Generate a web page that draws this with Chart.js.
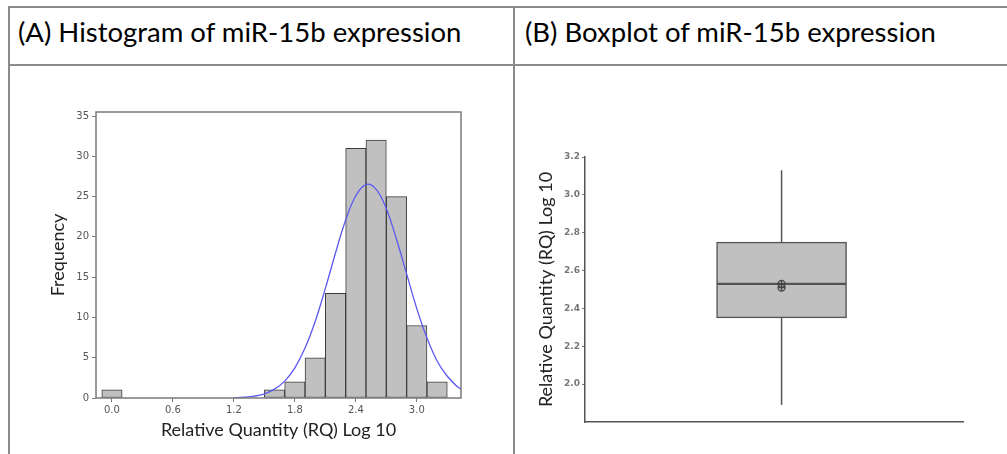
<!DOCTYPE html>
<html>
<head>
<meta charset="utf-8">
<script src="https://cdn.jsdelivr.net/npm/chart.js@4.4.1/dist/chart.umd.min.js"></script>
<style>
  body { margin: 0; background: #fff; width: 1007px; height: 454px; overflow: hidden; position: relative; }
  .line { position: absolute; background: #8c8c8c; }
  .hdr { position: absolute; font-family: "Lato", sans-serif; font-size: 27.5px; color: #000; white-space: nowrap; }
  canvas { position: absolute; }
</style>
</head>
<body>
<div class="line" style="left:8px; top:6px; width:999px; height:2px;"></div>
<div class="line" style="left:8px; top:6px; width:2px; height:448px;"></div>
<div class="line" style="left:513px; top:6px; width:2px; height:448px;"></div>
<div class="line" style="left:8px; top:64px; width:999px; height:2px;"></div>
<div class="hdr" style="left:18px; top:15px;">(A) Histogram of miR-15b expression</div>
<div class="hdr" style="left:525px; top:15px;">(B) Boxplot of miR-15b expression</div>

<div style="position:absolute; left:20px; top:95px; width:460px; height:355px;"><canvas id="hist"></canvas></div>
<div style="position:absolute; left:520px; top:140px; width:470px; height:300px;"><canvas id="box"></canvas></div>

<script>
// histogram bins (centre of each 0.2 wide bin) and counts
const binCenters = [0.0, 0.2, 0.4, 0.6, 0.8, 1.0, 1.2, 1.4, 1.6, 1.8, 2.0, 2.2, 2.4, 2.6, 2.8, 3.0, 3.2];
const binCounts  = [1,   0,   0,   0,   0,   0,   0,   0,   1,   2,   5,   13,  31,  32,  25,  9,   2];

// fitted normal curve
const curveX = [1.2, 1.3, 1.4, 1.5, 1.6, 1.7, 1.8, 1.9, 2.0, 2.1, 2.2, 2.3, 2.4, 2.5, 2.6, 2.7, 2.8, 2.9, 3.0, 3.1, 3.2, 3.3, 3.4, 3.44];
const curveY = [0.04, 0.1, 0.23, 0.52, 1.1, 2.1, 3.75, 6.2, 9.5, 13.6, 18.0, 22.1, 25.1, 26.5, 25.9, 23.5, 19.7, 15.4, 11.1, 7.45, 4.6, 2.7, 1.4, 1.1];

const histXTicks = [0.0, 0.6, 1.2, 1.8, 2.4, 3.0];
const histYTicks = [0, 5, 10, 15, 20, 25, 30, 35];

// boxplot summary
const boxPos = 0.52;
const whiskerLow = 1.89;
const q1 = 2.35;
const median = 2.53;
const q3 = 2.75;
const whiskerHigh = 3.13;
const meanMarks = [2.53, 2.51];
const boxYTicks = [2.0, 2.2, 2.4, 2.6, 2.8, 3.0, 3.2];

const tickFont = { family: "DejaVu Sans", size: 10 };
const titleFont = { family: "Lato", size: 18 };

// frame round the histogram plot area
const framePlugin = {
  id: "frame",
  afterDraw(chart) {
    const a = chart.chartArea;
    const c = chart.ctx;
    c.save();
    c.strokeStyle = "#7a7a7a";
    c.lineWidth = 1.5;
    c.strokeRect(a.left, a.top, a.right - a.left, a.bottom - a.top);
    c.restore();
  },
};

new Chart(document.getElementById("hist"), {
  type: "bar",
  data: {
    datasets: [
      {
        type: "line",
        data: curveX.map((x, i) => ({ x: x, y: curveY[i] })),
        borderColor: "#5a5af0",
        borderWidth: 1.3,
        pointRadius: 0,
        tension: 0.4,
        order: 0,
      },
      {
        data: binCenters.map((x, i) => ({ x: x, y: binCounts[i] })),
        backgroundColor: "#c0c0c0",
        borderColor: "#3c3c3c",
        borderWidth: 1,
        borderSkipped: false,
        barPercentage: 1,
        categoryPercentage: 1,
        order: 1,
      },
    ],
  },
  options: {
    responsive: true,
    maintainAspectRatio: false,
    animation: false,
    layout: { padding: { top: 17, right: 19, left: 0, bottom: 0 } },
    plugins: { legend: { display: false }, tooltip: { enabled: false } },
    scales: {
      x: {
        type: "linear",
        offset: false,
        min: -0.157,
        max: 3.435,
        afterBuildTicks: (s) => { s.ticks = histXTicks.map((v) => ({ value: v })); },
        afterFit: (s) => { s.height = 52; },
        grid: { display: true, drawOnChartArea: false, tickLength: 4, color: "#7a7a7a", offset: false },
        border: { display: false },
        ticks: { font: tickFont, color: "#555", padding: 2, maxRotation: 0,
          callback: (v) => v.toFixed(1) },
        title: { display: true, text: "Relative Quantity (RQ) Log 10", font: titleFont, color: "#222",
          padding: { top: 0, bottom: 9 } },
      },
      y: {
        min: 0,
        max: 35.5,
        afterBuildTicks: (s) => { s.ticks = histYTicks.map((v) => ({ value: v })); },
        afterFit: (s) => { s.width = 76; },
        grid: { display: true, drawOnChartArea: false, tickLength: 4, color: "#7a7a7a" },
        border: { display: false },
        ticks: { font: tickFont, color: "#555", padding: 3 },
        title: { display: true, text: "Frequency", font: titleFont, color: "#222",
          padding: { top: 27, bottom: 0 } },
      },
    },
  },
  plugins: [framePlugin],
});

new Chart(document.getElementById("box"), {
  type: "bar",
  data: {
    datasets: [
      {
        type: "scatter",
        data: meanMarks.map((v) => ({ x: boxPos, y: v })),
        pointStyle: "circle",
        pointRadius: 3.5,
        backgroundColor: "rgba(0,0,0,0)",
        borderColor: "#444",
        borderWidth: 1.3,
        order: 0,
      },
      {
        type: "scatter",
        data: meanMarks.map((v) => ({ x: boxPos, y: v })),
        pointStyle: "cross",
        pointRadius: 3.5,
        borderColor: "#444",
        borderWidth: 1.3,
        order: 0,
      },
      {
        type: "line",
        data: [{ x: boxPos, y: q3 }, { x: boxPos, y: whiskerHigh }],
        borderColor: "#555",
        borderWidth: 1.5,
        pointRadius: 0,
        order: 1,
      },
      {
        type: "line",
        data: [{ x: boxPos, y: whiskerLow }, { x: boxPos, y: q1 }],
        borderColor: "#555",
        borderWidth: 1.5,
        pointRadius: 0,
        order: 1,
      },
      {
        data: [{ x: boxPos, y: [q1, median] }],
        backgroundColor: "#c0c0c0",
        borderColor: "#555",
        borderWidth: 1.5,
        borderSkipped: false,
        barThickness: 130,
        grouped: false,
        order: 2,
      },
      {
        data: [{ x: boxPos, y: [median, q3] }],
        backgroundColor: "#c0c0c0",
        borderColor: "#555",
        borderWidth: 1.5,
        borderSkipped: false,
        barThickness: 130,
        grouped: false,
        order: 2,
      },
    ],
  },
  options: {
    responsive: true,
    maintainAspectRatio: false,
    animation: false,
    layout: { padding: { top: 17, right: 27, left: 0, bottom: 0 } },
    plugins: { legend: { display: false }, tooltip: { enabled: false } },
    scales: {
      x: {
        type: "linear",
        offset: false,
        min: 0,
        max: 1,
        afterFit: (s) => { s.height = 18; },
        grid: { display: false },
        border: { display: true, color: "#555", width: 1.5 },
        ticks: { display: false },
      },
      y: {
        min: 1.8,
        max: 3.2,
        afterBuildTicks: (s) => { s.ticks = boxYTicks.map((v) => ({ value: v })); },
        afterFit: (s) => { s.width = 65; },
        grid: { display: true, drawOnChartArea: false, tickLength: 3, color: "#777" },
        border: { display: true, color: "#555", width: 1.5 },
        ticks: { font: { family: "DejaVu Sans", size: 9, weight: "bold" }, color: "#777", padding: 2,
          callback: (v) => v.toFixed(1) },
        title: { display: true, text: "Relative Quantity (RQ) Log 10", font: titleFont, color: "#222",
          padding: { top: 15, bottom: 0 } },
      },
    },
  },
});
</script>
</body>
</html>
